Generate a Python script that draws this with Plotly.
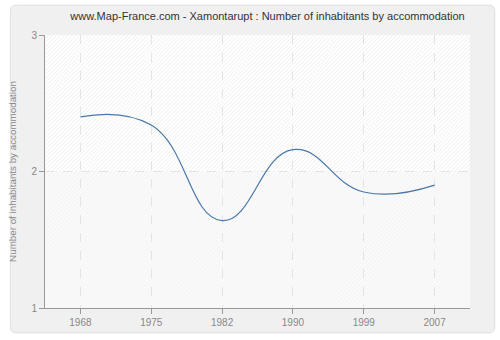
import plotly.graph_objects as go

years = ["1968", "1975", "1982", "1990", "1999", "2007"]
values = [2.40, 2.34, 1.64, 2.16, 1.85, 1.90]
y_ticks = [1, 2, 3]

W, H = 500, 340
L, R, T, B = 40, 30, 35, 30
PW, PH = W - L - R, H - T - B


def px(x):  # pixel x -> paper
    return (x - L) / PW


def py(y):  # pixel y (from top) -> paper
    return 1 - (y - T) / PH


def hatch_path(y_top, y_bot, step=4):
    """45-degree hatch lines inside plot-area band (pixel coords)."""
    segs = []
    x0, x1 = L, L + PW
    h = y_bot - y_top
    c = x0 - h
    while c < x1:
        ya, yb = y_bot, y_top
        xa, xb = c, c + h
        if xa < x0:
            ya = y_bot - (x0 - xa); xa = x0
        if xb > x1:
            yb = y_top + (xb - x1); xb = x1
        if xb > xa:
            segs.append(f"M{px(xa):.5f},{py(ya):.5f}L{px(xb):.5f},{py(yb):.5f}")
        c += step
    return "".join(segs)


def rounded_rect(xa, ya, xb, yb, r):
    return (f"M{px(xa + r)},{py(ya)} L{px(xb - r)},{py(ya)} Q{px(xb)},{py(ya)} {px(xb)},{py(ya + r)} "
            f"L{px(xb)},{py(yb - r)} Q{px(xb)},{py(yb)} {px(xb - r)},{py(yb)} "
            f"L{px(xa + r)},{py(yb)} Q{px(xa)},{py(yb)} {px(xa)},{py(yb - r)} "
            f"L{px(xa)},{py(ya + r)} Q{px(xa)},{py(ya)} {px(xa + r)},{py(ya)} Z")


mid = T + PH / 2

fig = go.Figure()
fig.add_trace(go.Scatter(
    x=years, y=values, mode="lines",
    line=dict(color="#4a78a8", width=1.2, shape="spline", smoothing=1.3),
    showlegend=False))

shapes = [
    dict(type="path", xref="paper", yref="paper", layer="below",
         path=rounded_rect(5, 5, 495, 335, 6),
         fillcolor="#f0f0f0", line=dict(color="#dedede", width=1)),
    dict(type="rect", xref="paper", yref="paper", layer="below",
         x0=0, x1=1, y0=0.5, y1=1, fillcolor="white", line=dict(width=0)),
    dict(type="rect", xref="paper", yref="paper", layer="below",
         x0=0, x1=1, y0=0, y1=0.5, fillcolor="#fafafa", line=dict(width=0)),
    dict(type="path", xref="paper", yref="paper", layer="below",
         path=hatch_path(T, mid), line=dict(color="#f0f0f0", width=1)),
    dict(type="path", xref="paper", yref="paper", layer="below",
         path=hatch_path(mid, T + PH), line=dict(color="#f3f3f3", width=1)),
]

fig.update_layout(
    width=W, height=H,
    margin=dict(l=L, r=R, t=T, b=B),
    paper_bgcolor="white", plot_bgcolor="rgba(0,0,0,0)",
    font=dict(family="Liberation Sans", color="#888888", size=11),
    title=dict(text="www.Map-France.com - Xamontarupt : Number of inhabitants by accommodation",
               x=0.535, xanchor="center", y=0.952, yanchor="middle",
               font=dict(size=11, color="#333333")),
    xaxis=dict(type="category", range=[-0.5, 5.5], showline=True, linecolor="#999999",
               linewidth=1, ticks="outside", ticklen=5, tickcolor="#999999",
               showgrid=True, gridcolor="#e4e4e4", griddash="dash", gridwidth=1,
               tickfont=dict(size=10, color="#888888"), zeroline=False),
    yaxis=dict(range=[1, 3], tickvals=y_ticks, showline=True, linecolor="#999999",
               linewidth=1, ticks="outside", ticklen=5, tickcolor="#999999",
               showgrid=True, gridcolor="#e4e4e4", griddash="dash", gridwidth=1,
               tickfont=dict(size=10, color="#888888"), zeroline=False,
               title=dict(text="Number of inhabitants by accommodation", standoff=13,
                          font=dict(size=9.8, color="#888888"))),
    shapes=shapes,
)

fig.write_html("out.html")
